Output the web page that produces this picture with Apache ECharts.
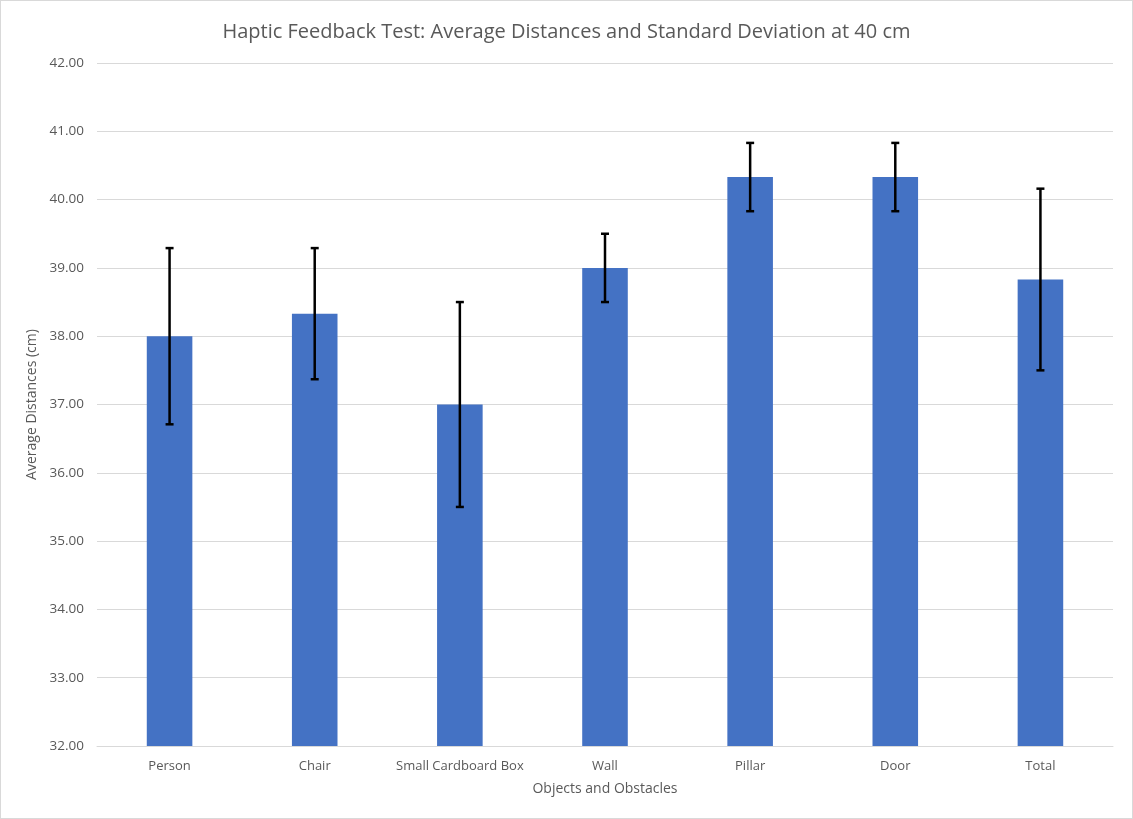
<!DOCTYPE html>
<html>
<head>
<meta charset="utf-8">
<script src="https://cdn.jsdelivr.net/npm/echarts@6/dist/echarts.min.js"></script>
<style>
html,body{margin:0;padding:0;background:#fff;}
#chart{position:absolute;left:0;top:0;width:1131px;height:817px;border:1px solid #d9d9d9;}
</style>
</head>
<body>
<div id="chart"></div>
<script>
const categories = ["Person","Chair","Small Cardboard Box","Wall","Pillar","Door","Total"];
const averages = [38.00, 38.33, 37.00, 39.00, 40.33, 40.33, 38.83];
const stdDevs = [1.29, 0.96, 1.50, 0.50, 0.50, 0.50, 1.33];
const yTicks = {min: 32, max: 42, interval: 1};

const FONT = "'Open Sans', 'Liberation Sans', sans-serif";
const chart = echarts.init(document.getElementById('chart'));
const errData = categories.map((c, i) => [i, averages[i] - stdDevs[i], averages[i] + stdDevs[i]]);

chart.setOption({
  backgroundColor: '#fff',
  animation: false,
  title: {
    text: 'Haptic Feedback Test: Average Distances and Standard Deviation at 40 cm',
    left: 'center', top: 16,
    textStyle: {fontFamily: FONT, fontSize: 20, fontWeight: 'normal', color: '#595959'}
  },
  grid: {left: 96, right: 19, top: 62, bottom: 72},
  xAxis: {
    type: 'category', data: categories,
    name: 'Objects and Obstacles', nameLocation: 'middle', nameGap: 36,
    nameTextStyle: {fontFamily: FONT, fontSize: 14, color: '#595959'},
    axisLine: {lineStyle: {color: '#d9d9d9', width: 1}},
    axisTick: {show: false},
    axisLabel: {fontFamily: FONT, fontSize: 13, color: '#595959', margin: 14, interval: 0}
  },
  yAxis: {
    type: 'value', min: yTicks.min, max: yTicks.max, interval: yTicks.interval,
    name: 'Average Distances (cm)', nameLocation: 'middle', nameGap: 56,
    nameTextStyle: {fontFamily: FONT, fontSize: 14, color: '#595959'},
    axisLine: {show: false}, axisTick: {show: false},
    splitLine: {lineStyle: {color: '#d9d9d9', width: 1}},
    axisLabel: {fontFamily: FONT, fontSize: 13.5, color: '#595959', margin: 13,
      formatter: v => v.toFixed(2)}
  },
  series: [
    {
      type: 'bar', data: averages, barWidth: '31.4%',
      itemStyle: {color: '#4472c4'}
    },
    {
      type: 'custom', data: errData, z: 10,
      renderItem: function (params, api) {
        const x = api.value(0);
        const lo = api.coord([x, api.value(1)]);
        const hi = api.coord([x, api.value(2)]);
        const hw = 4;
        const st = {stroke: '#000', lineWidth: 2.5};
        return {type: 'group', children: [
          {type: 'line', shape: {x1: hi[0], y1: hi[1], x2: lo[0], y2: lo[1]}, style: st},
          {type: 'line', shape: {x1: hi[0]-hw, y1: hi[1], x2: hi[0]+hw, y2: hi[1]}, style: st},
          {type: 'line', shape: {x1: lo[0]-hw, y1: lo[1], x2: lo[0]+hw, y2: lo[1]}, style: st}
        ]};
      }
    }
  ]
});
</script>
</body>
</html>
